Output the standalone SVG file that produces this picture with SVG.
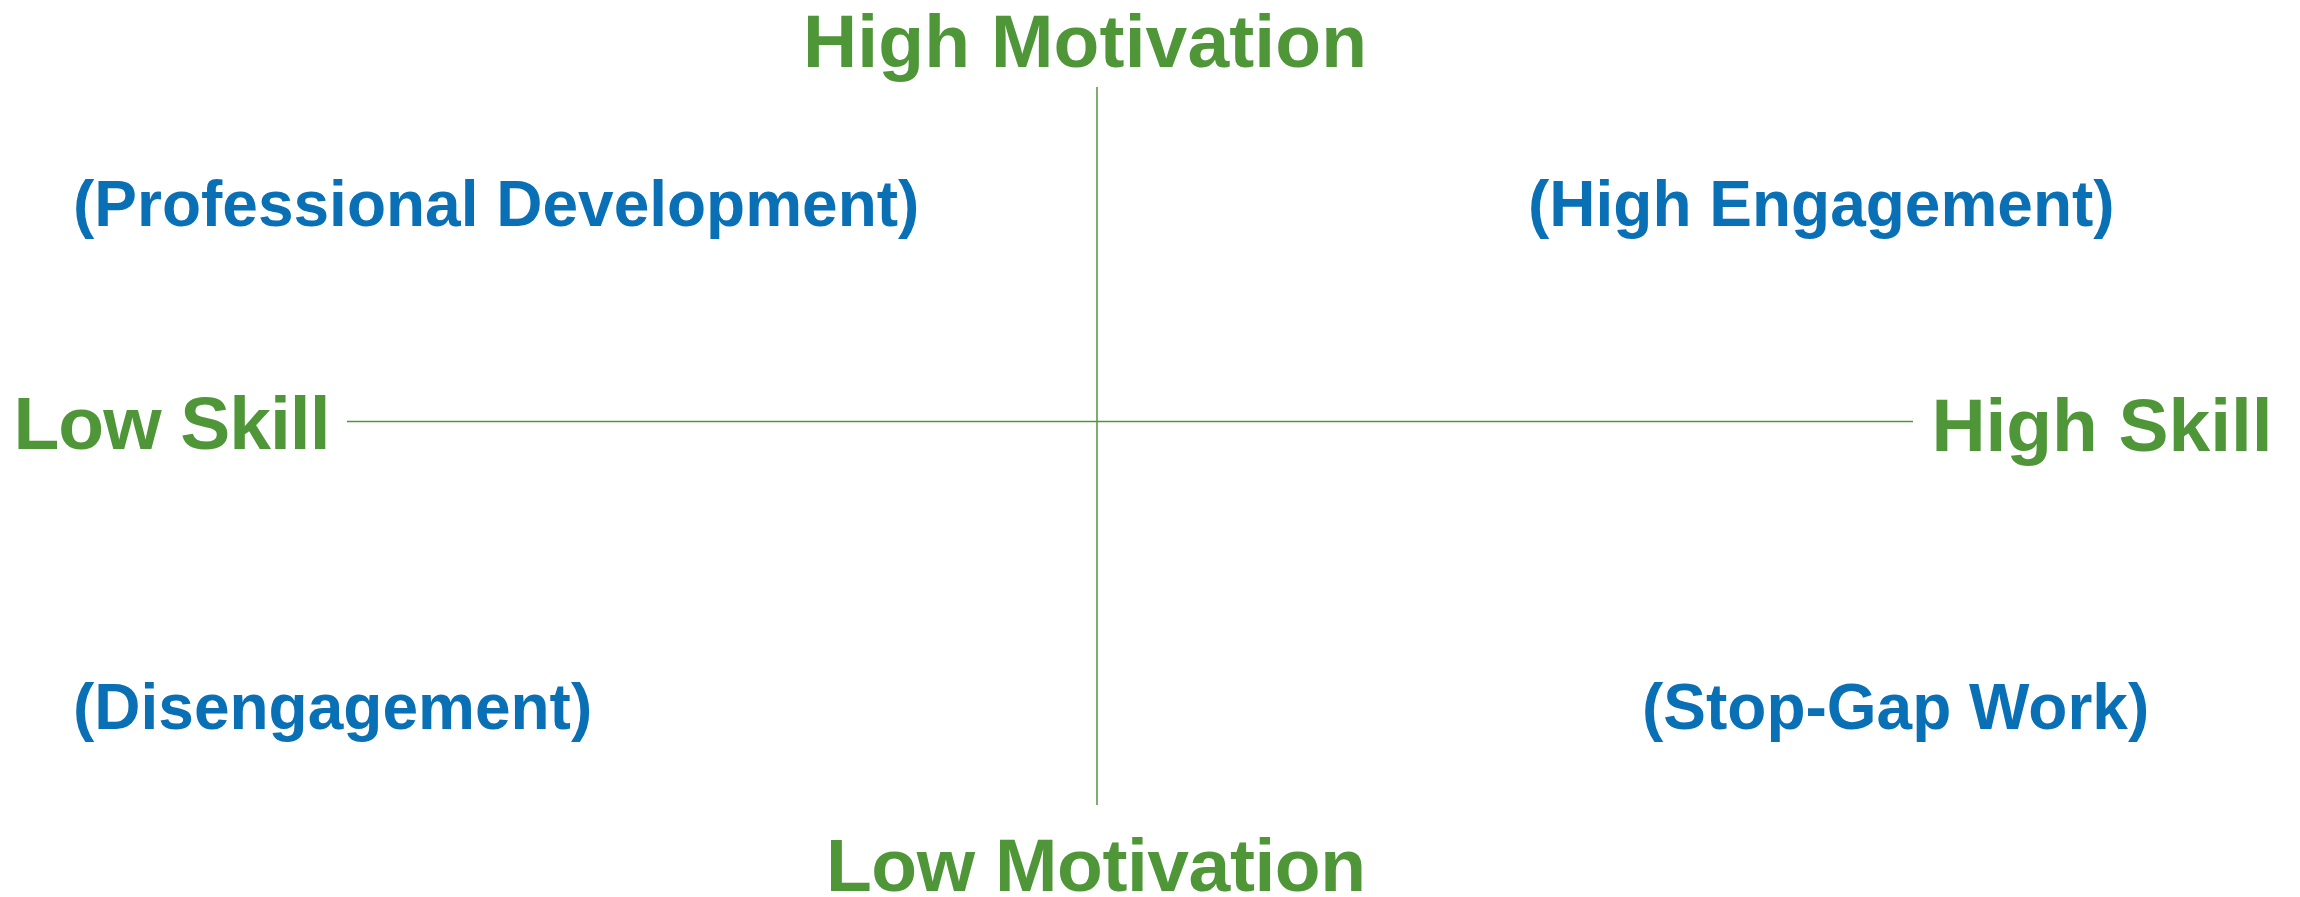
<svg xmlns="http://www.w3.org/2000/svg" width="2300" height="897" viewBox="0 0 2300 897">
<style>
.axis{font-family:"Liberation Sans",Arial,sans-serif;font-weight:bold;font-size:75px;fill:#4F9638}
.quad{font-family:"Liberation Sans",Arial,sans-serif;font-weight:bold;font-size:64px;fill:#0A70B5}
.line{stroke:#4F9638;stroke-width:1.5;fill:none}
</style>
<rect width="2300" height="897" fill="#FFFFFF"/>
<g id="connectors">
<line class="line" x1="1097" y1="87" x2="1097" y2="805"/>
<line class="line" x1="347" y1="421.5" x2="1913" y2="421.5"/>
</g>
<g id="high-motivation"><text class="axis" x="1085" y="67" text-anchor="middle" textLength="564" lengthAdjust="spacing">High Motivation</text></g>
<g id="low-motivation"><text class="axis" x="1096" y="891" text-anchor="middle" textLength="540" lengthAdjust="spacing">Low Motivation</text></g>
<g id="low-skill"><text class="axis" x="13.5" y="449" textLength="317" lengthAdjust="spacing">Low Skill</text></g>
<g id="high-skill"><text class="axis" x="1931.5" y="451" textLength="341" lengthAdjust="spacing">High Skill</text></g>
<g id="professional-development"><text class="quad" x="73" y="226">(Professional Development)</text></g>
<g id="high-engagement"><text class="quad" x="1528" y="226">(High Engagement)</text></g>
<g id="disengagement"><text class="quad" x="73" y="729">(Disengagement)</text></g>
<g id="stop-gap-work"><text class="quad" x="1642" y="729">(Stop-Gap Work)</text></g>
</svg>
